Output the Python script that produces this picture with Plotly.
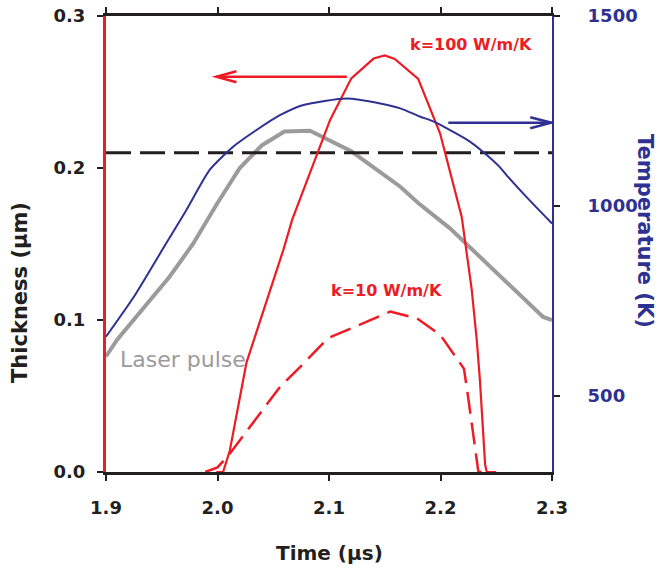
import plotly.graph_objects as go

# ---------------- data ----------------
time_laser = [1.900, 1.910, 1.957, 1.978, 2.000, 2.020, 2.040, 2.060, 2.083, 2.120, 2.164, 2.180, 2.2085, 2.2534, 2.292, 2.300]
laser_pulse = [0.076, 0.087, 0.1285, 0.150, 0.177, 0.200, 0.215, 0.224, 0.2245, 0.211, 0.1877, 0.177, 0.1603, 0.1285, 0.102, 0.100]

time_temp = [1.900, 1.925, 1.954, 1.972, 1.993, 2.014, 2.035, 2.056, 2.077, 2.116, 2.146, 2.164, 2.182, 2.194, 2.224, 2.238, 2.253, 2.259, 2.277, 2.300]
temperature = [656, 761, 902, 989, 1095, 1156, 1200, 1239, 1266, 1283, 1270, 1257, 1235, 1222, 1174, 1143, 1103, 1082, 1024, 954]

time_k100 = [1.999, 2.005, 2.011, 2.026, 2.059, 2.067, 2.101, 2.120, 2.140, 2.150, 2.159, 2.180, 2.1996, 2.219, 2.228, 2.2325, 2.2354, 2.240, 2.2415, 2.250]
thick_k100 = [0.0, 0.0, 0.014, 0.072, 0.146, 0.166, 0.2316, 0.259, 0.272, 0.274, 0.2717, 0.2586, 0.2228, 0.168, 0.120, 0.087, 0.060, 0.005, 0.0, 0.0]

time_k10 = [1.989, 2.000, 2.011, 2.056, 2.074, 2.099, 2.155, 2.179, 2.200, 2.206, 2.221, 2.2235, 2.234, 2.242]
thick_k10 = [0.0, 0.003, 0.012, 0.056, 0.069, 0.088, 0.1055, 0.101, 0.090, 0.0836, 0.068, 0.056, 0.0, 0.0]

threshold_time = [1.9, 2.3]
threshold_thick = [0.21, 0.21]

x_ticks = [1.9, 2.0, 2.1, 2.2, 2.3]
y_ticks = [0.0, 0.1, 0.2, 0.3]
y2_ticks = [500, 1000, 1500]

# ---------------- styles ----------------
RED = "#ED1C24"
BLUE = "#2E3192"
GRAY = "#9B9B9B"
BLACK = "#231F20"
FONT = "DejaVu Sans"

fig = go.Figure()

fig.add_trace(go.Scatter(x=time_laser, y=laser_pulse, mode="lines",
                         line=dict(color=GRAY, width=4), showlegend=False))
fig.add_trace(go.Scatter(x=time_temp, y=temperature, mode="lines", yaxis="y2",
                         line=dict(color=BLUE, width=2, shape="spline", smoothing=0.6),
                         showlegend=False))
fig.add_trace(go.Scatter(x=threshold_time, y=threshold_thick, mode="lines",
                         line=dict(color=BLACK, width=3, dash="25px,9px"), showlegend=False))
fig.add_trace(go.Scatter(x=time_k10, y=thick_k10, mode="lines",
                         line=dict(color=RED, width=2.5, dash="22px,9px"), showlegend=False))
fig.add_trace(go.Scatter(x=time_k100, y=thick_k100, mode="lines",
                         line=dict(color=RED, width=2.2), showlegend=False))

# arrows (pointing to the axis each curve belongs to)
def arrow(x0, x1, y, color, head_dx, head_dy):
    d = 1 if x1 > x0 else -1
    fig.add_shape(type="line", x0=x0, x1=x1, y0=y, y1=y, xref="x", yref="y",
                  line=dict(color=color, width=2.5))
    fig.add_shape(type="path", xref="x", yref="y",
                  path=f"M {x1 - d*head_dx},{y + head_dy} L {x1},{y} L {x1 - d*head_dx},{y - head_dy}",
                  line=dict(color=color, width=2.5))

arrow(2.116, 1.999, 0.260, RED, 0.018, 0.0036)
arrow(2.207, 2.2995, 0.2298, BLUE, 0.019, 0.0036)

# text labels
fig.add_annotation(x=2.2274, y=0.281, text="k=100 W/m/K", showarrow=False,
                   font=dict(family=FONT, size=16, color=RED, weight="bold"))
fig.add_annotation(x=2.1517, y=0.1197, text="k=10 W/m/K", showarrow=False,
                   font=dict(family=FONT, size=16, color=RED, weight="bold"))
fig.add_annotation(x=1.9693, y=0.0743, text="Laser pulse", showarrow=False,
                   font=dict(family=FONT, size=22, color=GRAY))

# axis titles
fig.add_annotation(xref="paper", yref="paper", x=0.5, y=0, xanchor="center", yanchor="middle",
                   yshift=-81, text="Time (μs)", showarrow=False,
                   font=dict(family=FONT, size=20, color=BLACK, weight="bold"))
fig.add_annotation(xref="paper", yref="paper", x=0, y=0.5, xanchor="center", yanchor="middle",
                   xshift=-86, yshift=-49, text="Thickness (μm)", textangle=-90, showarrow=False,
                   font=dict(family=FONT, size=21, color=BLACK, weight="bold"))
fig.add_annotation(xref="paper", yref="paper", x=1, y=0.5, xanchor="center", yanchor="middle",
                   xshift=93, yshift=13, text="Temperature (K)", textangle=90, showarrow=False,
                   font=dict(family=FONT, size=21, color=BLUE, weight="bold"))

fig.update_layout(
    width=660, height=569,
    margin=dict(l=106, r=108, t=16, b=97, autoexpand=False),
    paper_bgcolor="white", plot_bgcolor="white",
    showlegend=False,
    xaxis=dict(range=[1.9, 2.3], tickvals=x_ticks, tickformat=".1f",
               showgrid=False, zeroline=False, automargin=False,
               showline=True, linecolor=BLACK, linewidth=2.5, mirror="ticks",
               ticks="outside", ticklen=6, tickwidth=1.5, tickcolor=BLACK,
               ticklabelstandoff=12, ticklabeloverflow="allow",
               tickfont=dict(family=FONT, size=18, color=BLACK, weight="bold")),
    yaxis=dict(range=[0, 0.3], tickvals=y_ticks, tickformat=".1f",
               showgrid=False, zeroline=False, automargin=False,
               showline=True, linecolor=RED, linewidth=3,
               ticks="outside", ticklen=6, tickwidth=1.5, tickcolor=BLACK,
               ticklabelstandoff=8, ticklabeloverflow="allow",
               tickfont=dict(family=FONT, size=18, color=BLACK, weight="bold")),
    yaxis2=dict(range=[300, 1500], tickvals=y2_ticks, overlaying="y", side="right",
                showgrid=False, zeroline=False, automargin=False,
                showline=True, linecolor=BLUE, linewidth=2,
                ticks="outside", ticklen=6, tickwidth=1.5, tickcolor=BLACK,
                ticklabelstandoff=24, ticklabeloverflow="allow",
                tickfont=dict(family=FONT, size=18, color=BLUE, weight="bold")),
)

# remove the default 8px page margin so the 660x569 figure fills the window exactly
fig.write_html("out.html", config={"displayModeBar": False},
               post_script="document.body.style.margin='0px';")
